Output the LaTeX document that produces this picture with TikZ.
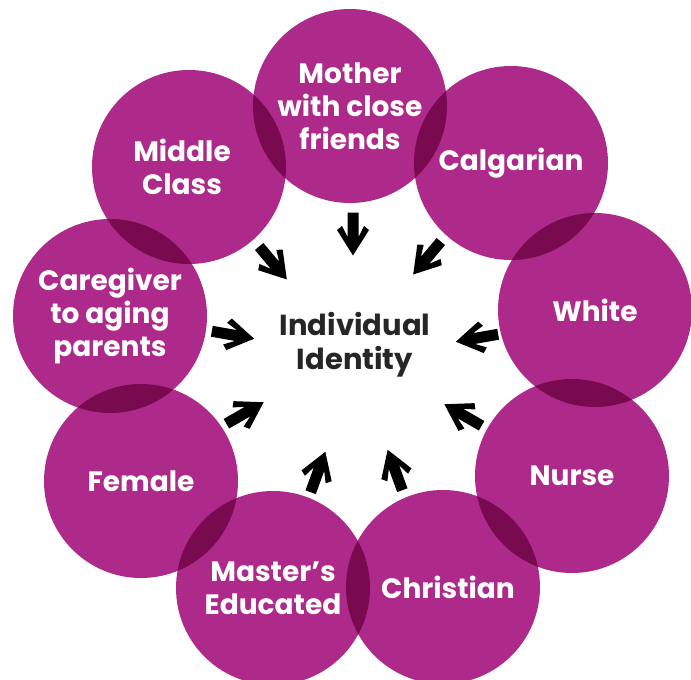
\documentclass[tikz,border=0pt]{standalone}
\usepackage{fontspec}
\setmainfont{Poppins}[UprightFont={* SemiBold},BoldFont={* Bold}]
\usetikzlibrary{calc}
\definecolor{mag}{HTML}{AD2A8A}
\definecolor{magdark}{HTML}{7A0A4F}
\definecolor{ink}{HTML}{262626}
\tikzset{
  bubble/.style={circle, fill=mag, minimum size=194pt, inner sep=0pt},
  lbl/.style={text=white, align=center, inner sep=0pt, font=\bfseries\fontsize{28}{33}\selectfont},
  core/.style={text=ink, align=center, inner sep=0pt, font=\bfseries\fontsize{29}{34}\selectfont},
  arr/.pic={\fill[black] (-21.5pt,-5.5pt) -- (3pt,-5.5pt) -- (-8pt,-11pt) -- (-4pt,-16pt) -- (21.5pt,0pt) -- (-4pt,16pt) -- (-8pt,11pt) -- (3pt,5.5pt) -- (-21.5pt,5.5pt) -- cycle;}
}
\begin{document}
\begin{tikzpicture}[x=1pt,y=-1pt]
\useasboundingbox (0,0) rectangle (691,680);
% bubbles
\node[bubble] (c0) at (350,106) {};
\node[bubble] (c1) at (511,163) {};
\node[bubble] (c2) at (595,310) {};
\node[bubble] (c3) at (572,476) {};
\node[bubble] (c4) at (443,587) {};
\node[bubble] (c5) at (273,588) {};
\node[bubble] (c6) at (141,481) {};
\node[bubble] (c7) at (110,316) {};
\node[bubble] (c8) at (189,167) {};
% overlaps
\foreach \i/\j in {0/1,1/2,2/3,3/4,4/5,5/6,6/7,7/8,8/0}{
  \begin{scope}
    \clip (c\i) circle[radius=97pt];
    \fill[magdark] (c\j) circle[radius=97pt];
  \end{scope}
}
% labels
\node[lbl] (t0) at (c0) {Mother\\with close\\friends};
\node[lbl] (t1) at (c1) {Calgarian};
\node[lbl] (t2) at (c2) {White};
\node[lbl] (t3) at (c3) {Nurse};
\node[lbl] (t4) at ($(c4)+(5,0)$) {Christian};
\node[lbl] (t5) at (c5) {Master’s\\Educated};
\node[lbl] (t6) at (c6) {Female};
\node[lbl] (t7) at (c7) {Caregiver\\to aging\\parents};
\node[lbl] (t8) at ($(c8)+(-7,0)$) {Middle\\Class};
\node[core] (core) at (355,345) {Individual\\Identity};
% arrows
\pic[rotate=-90]  at (353,234) {arr};
\pic[rotate=-130] at (427,258) {arr};
\pic[rotate=-170] at (477,338) {arr};
\pic[rotate=150]  at (463,415) {arr};
\pic[rotate=110]  at (395,470) {arr};
\pic[rotate=70]   at (318,472) {arr};
\pic[rotate=30]   at (245,413) {arr};
\pic[rotate=-10]  at (233,335) {arr};
\pic[rotate=-50]  at (273,263) {arr};
\end{tikzpicture}
\end{document}
